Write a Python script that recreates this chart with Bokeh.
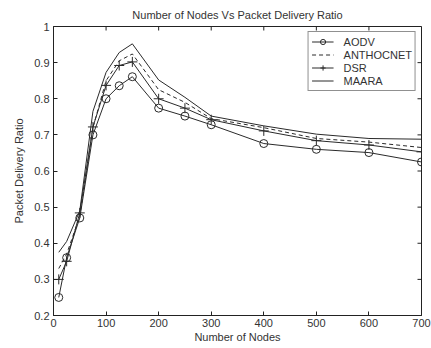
import math
from bokeh.plotting import figure
from bokeh.models import (FixedTicker, Legend, LegendItem, Range1d)
from bokeh.embed import file_html
from bokeh.resources import INLINE

nodes = [10, 25, 50, 75, 100, 125, 150, 200, 250, 300, 400, 500, 600, 700]
aodv = [0.25, 0.36, 0.47, 0.70, 0.80, 0.836, 0.861, 0.774, 0.752, 0.728, 0.676, 0.66, 0.651, 0.625]
anthocnet = [0.33, 0.37, 0.475, 0.72, 0.85, 0.905, 0.924, 0.825, 0.79, 0.745, 0.72, 0.69, 0.68, 0.665]
dsr = [0.30, 0.35, 0.484, 0.722, 0.837, 0.892, 0.902, 0.80, 0.774, 0.742, 0.711, 0.684, 0.672, 0.653]
maara = [0.375, 0.405, 0.49, 0.765, 0.873, 0.928, 0.952, 0.852, 0.804, 0.752, 0.725, 0.702, 0.69, 0.688]

x_ticks = [0, 100, 200, 300, 400, 500, 600, 700]
y_ticks = [0.2, 0.3, 0.4, 0.5, 0.6, 0.7, 0.8, 0.9, 1.0]
y_tick_labels = ["0.2", "0.3", "0.4", "0.5", "0.6", "0.7", "0.8", "0.9", "1"]

FONT = "Liberation Sans"
TXT = "#333333"
LC = "#2a2a2a"
AX = "#222222"

p = figure(width=431, height=348, output_backend="svg", toolbar_location=None,
           x_range=Range1d(0, 700), y_range=Range1d(0.2, 1.0),
           title="Number of Nodes Vs Packet Delivery Ratio",
           min_border_left=53, min_border_right=10, min_border_top=26, min_border_bottom=33)
p.background_fill_color = "white"
p.border_fill_color = "white"
p.grid.visible = False
p.outline_line_color = AX
p.outline_line_width = 1

p.title.text_font = FONT
p.title.text_font_size = "11px"
p.title.text_font_style = "normal"
p.title.text_color = TXT
p.title.align = "center"
p.title.standoff = 12

def style_axis(ax):
    ax.major_tick_in = 4
    ax.major_tick_out = 0
    ax.minor_tick_in = 0
    ax.minor_tick_out = 0
    ax.axis_line_color = AX
    ax.major_tick_line_color = AX
    ax.major_label_text_font = FONT
    ax.major_label_text_font_size = "11px"
    ax.major_label_text_color = TXT
    ax.axis_label_text_font = FONT
    ax.axis_label_text_font_size = "11px"
    ax.axis_label_text_font_style = "normal"
    ax.axis_label_text_color = TXT

xax = p.xaxis[0]
yax = p.yaxis[0]
xax.ticker = FixedTicker(ticks=x_ticks)
yax.ticker = FixedTicker(ticks=y_ticks)
yax.major_label_overrides = {t: l for t, l in zip(y_ticks, y_tick_labels)}
xax.axis_label = "Number of Nodes"
yax.axis_label = "Packet Delivery Ratio"
style_axis(xax)
style_axis(yax)
xax.major_label_standoff = 3
xax.axis_label_standoff = 1
yax.major_label_standoff = 4
yax.axis_label_standoff = 6

# inward ticks on the top and right edges of the box
p.ray(x=x_ticks, y=[y_ticks[-1]] * len(x_ticks), length=4, length_units="screen",
      angle=-math.pi / 2, line_color=AX, line_width=1)
p.ray(x=[x_ticks[-1]] * len(y_ticks), y=y_ticks, length=4, length_units="screen",
      angle=math.pi, line_color=AX, line_width=1)

r_aodv_l = p.line(nodes, aodv, line_color=LC, line_width=1)
r_aodv_m = p.scatter(nodes, aodv, marker="circle", size=8, fill_color=None, line_color=LC, line_width=1)
r_ant = p.line(nodes, anthocnet, line_color=LC, line_width=1, line_dash="4 3")
r_dsr_l = p.line(nodes, dsr, line_color=LC, line_width=1)
r_dsr_m = p.scatter(nodes, dsr, marker="cross", size=10, line_color=LC, line_width=1)
r_maara = p.line(nodes, maara, line_color=LC, line_width=1)

legend = Legend(items=[
    LegendItem(label="AODV", renderers=[r_aodv_l, r_aodv_m]),
    LegendItem(label="ANTHOCNET", renderers=[r_ant]),
    LegendItem(label="DSR", renderers=[r_dsr_l, r_dsr_m]),
    LegendItem(label="MAARA", renderers=[r_maara]),
], location="top_right")
legend.margin = 5
legend.padding = 3
legend.spacing = 0
legend.glyph_width = 22
legend.glyph_height = 13
legend.label_height = 13
legend.label_standoff = 10
legend.label_text_font = FONT
legend.label_text_font_size = "11px"
legend.label_text_color = TXT
legend.border_line_color = AX
legend.border_line_width = 1
legend.background_fill_color = "white"
legend.background_fill_alpha = 1
p.add_layout(legend)

open("out.html", "w").write(file_html(p, INLINE))
